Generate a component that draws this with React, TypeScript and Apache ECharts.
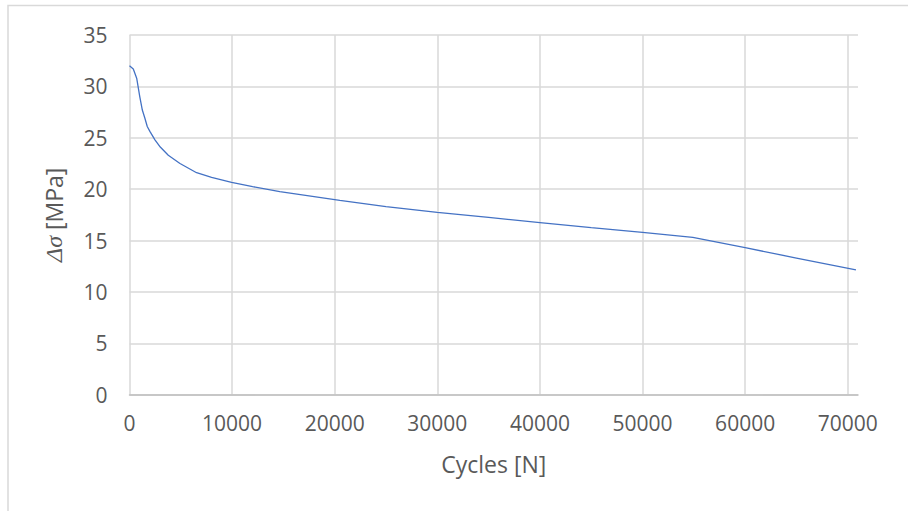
import React, { useEffect, useRef } from "react";
import * as echarts from "echarts";

const cycles = [0, 370, 700, 1000, 1250, 1500, 1730, 2000, 2480, 3000, 3780, 4920, 6540, 8000, 9950, 12000, 14650, 20500, 25000, 30000, 35000, 40000, 45000, 50000, 54900, 60000, 65000, 70800];
const deltaSigma = [32.0, 31.7, 30.8, 29.0, 27.7, 26.9, 26.1, 25.6, 24.8, 24.1, 23.3, 22.5, 21.6, 21.15, 20.65, 20.25, 19.75, 18.9, 18.3, 17.75, 17.25, 16.75, 16.25, 15.8, 15.3, 14.3, 13.3, 12.15];

const xTitle = "Cycles [N]";
const yTitleSymbol = "Δσ";
const yTitleUnit = " [MPa]";

export default function App() {
  const ref = useRef<HTMLDivElement>(null);
  useEffect(() => {
    if (!ref.current) return;
    const chart = echarts.init(ref.current, null, { renderer: "svg" });
    const textColor = "#595959";
    const font = "'Open Sans', sans-serif";
    chart.setOption({
      animation: false,
      backgroundColor: "#ffffff",
      grid: {
        left: 129.5,
        right: 50,
        top: 35,
        bottom: 116.3,
        outerBoundsMode: "none",
        containLabel: false,
      },
      graphic: [
        {
          type: "rect",
          shape: { x: 8, y: 5.5, width: 1200, height: 1200 },
          style: { fill: "none", stroke: "#D9D9D9", lineWidth: 1.5 },
          silent: true,
        },
      ],
      xAxis: {
        type: "value",
        min: 0,
        max: 71000,
        interval: 10000,
        name: xTitle,
        nameLocation: "middle",
        nameGap: 58,
        nameTextStyle: { color: textColor, fontSize: 23, fontFamily: font },
        axisLine: { show: true, lineStyle: { color: "#BFBFBF", width: 1.5 } },
        axisTick: { show: false },
        axisLabel: {
          color: textColor,
          fontSize: 21,
          fontFamily: font,
          margin: 18,
          showMaxLabel: false,
          formatter: (v: number) => String(v),
        },
        splitLine: {
          show: true,
          showMaxLine: false,
          lineStyle: { color: "#D9D9D9", width: 1.5 },
        },
      },
      yAxis: {
        type: "value",
        min: 0,
        max: 35,
        interval: 5,
        name: "{i|" + yTitleSymbol + "}{n|" + yTitleUnit + "}",
        nameLocation: "middle",
        nameRotate: 90,
        nameGap: 64,
        nameTextStyle: {
          color: textColor,
          fontSize: 23,
          fontFamily: font,
          rich: {
            i: {
              color: textColor,
              fontSize: 24,
              fontStyle: "italic",
              fontFamily: "'Liberation Serif', serif",
            },
            n: { color: textColor, fontSize: 23, fontFamily: font },
          },
        },
        axisLine: { show: false },
        axisTick: { show: false },
        axisLabel: {
          color: textColor,
          fontSize: 21,
          fontFamily: font,
          margin: 22,
        },
        splitLine: {
          show: true,
          lineStyle: { color: "#D9D9D9", width: 1.5 },
        },
      },
      series: [
        {
          type: "line",
          data: cycles.map((c, i) => [c, deltaSigma[i]]),
          showSymbol: false,
          smooth: false,
          lineStyle: { color: "#4472C4", width: 1.3 },
          clip: true,
        },
      ],
    });
    return () => chart.dispose();
  }, []);
  return (
    <div
      ref={ref}
      style={{ position: "absolute", left: 0, top: 0, width: 908, height: 511 }}
    />
  );
}
